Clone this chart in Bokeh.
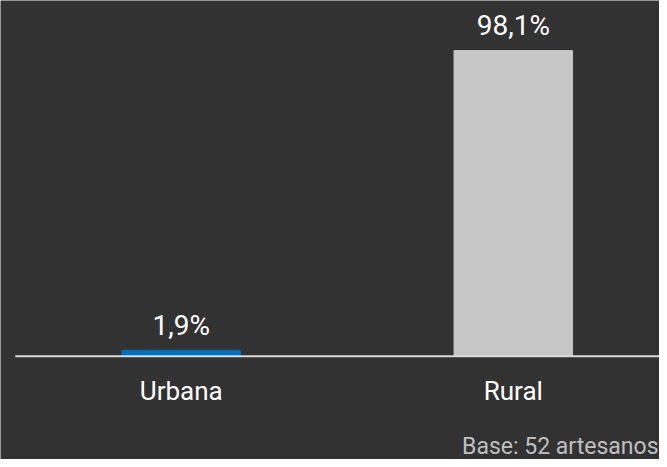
from bokeh.plotting import figure
from bokeh.models import Range1d, ColumnDataSource, Label
from bokeh.core.properties import value
from bokeh.embed import file_html
from bokeh.resources import INLINE

categories = ["Urbana", "Rural"]
values = [1.9, 98.1]
value_labels = ["1,9%", "98,1%"]
bar_colors = ["#0070C0", "#C6C6C6"]
note = "Base: 52 artesanos"

BG = "#323232"
x = list(range(len(categories)))
src = ColumnDataSource(dict(x=x, top=values, lab=value_labels, cat=categories,
                            color=bar_colors, zero=[0] * len(x)))

p = figure(width=659, height=459, output_backend="svg", toolbar_location=None,
           x_range=Range1d(-0.5446, 1.4404), y_range=Range1d(-33.12, 114.18),
           min_border=0, min_border_left=0, min_border_right=0,
           min_border_top=0, min_border_bottom=0)
p.background_fill_color = BG
p.border_fill_color = BG
p.outline_line_color = None
p.grid.visible = False
p.axis.visible = False

p.vbar(x="x", top="top", bottom=0, width=0.357, color="color", source=src)
p.segment(x0=[-0.5], y0=[0], x1=[1.4404], y1=[0], line_color="#D9D9D9", line_width=2)

p.text(x="x", y="top", text="lab", source=src, text_align="center",
       text_baseline="alphabetic", y_offset=-25, text_color="#FFFFFF",
       text_font=value("Roboto"), text_font_size="28px")
p.text(x="x", y="zero", text="cat", source=src, text_align="center",
       text_baseline="alphabetic", y_offset=35, text_color="#FFFFFF",
       text_font=value("Roboto"), text_font_size="26px")

p.add_layout(Label(x=658, y=0, x_units="screen", y_units="screen", text=note,
                   text_align="right", text_baseline="bottom",
                   text_color="#BFBFBF", text_font="Roboto", text_font_size="23px"))

open("out.html", "w").write(file_html(p, INLINE))
